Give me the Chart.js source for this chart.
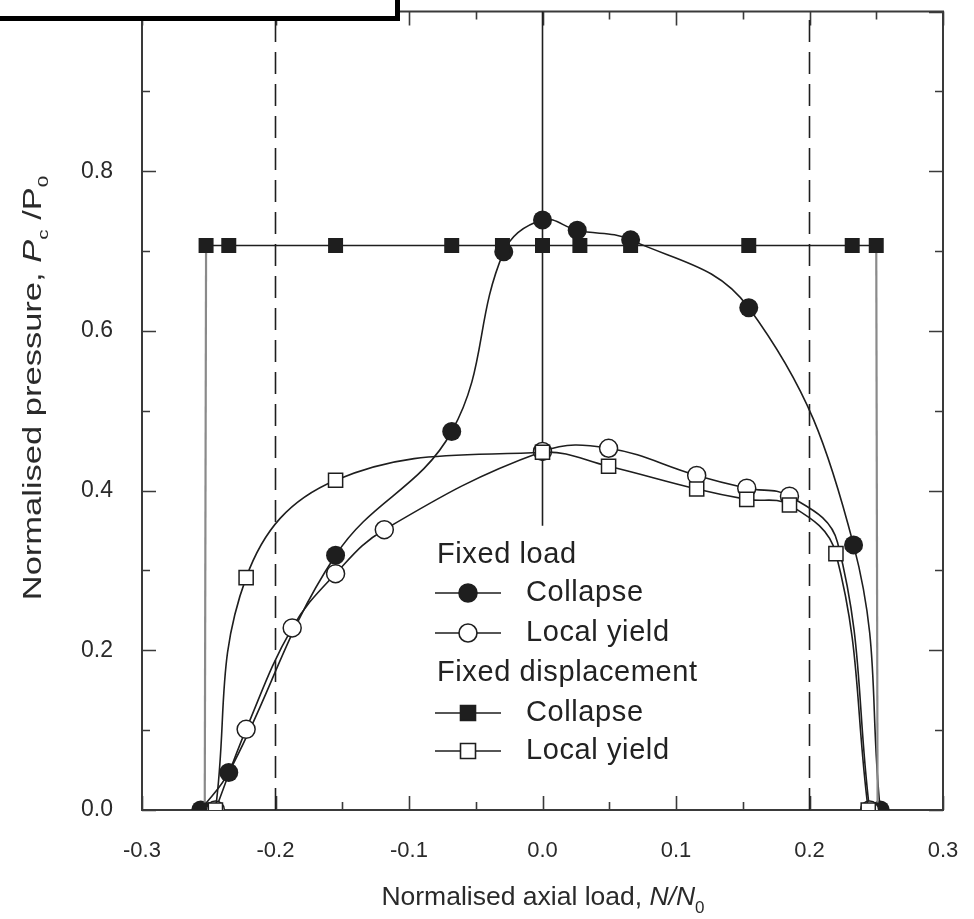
<!DOCTYPE html>
<html><head><meta charset="utf-8">
<script src="https://cdn.jsdelivr.net/npm/chart.js@4.4.0/dist/chart.umd.min.js"></script>
<style>html,body{margin:0;padding:0;background:#fff;overflow:hidden}</style>
</head><body>
<canvas id="c" width="974" height="919" style="display:block;width:974px;height:919px"></canvas>
<script>
// ---- data ----
const xTickValues = [-0.3, -0.2, -0.1, 0.0, 0.1, 0.2, 0.3];
const yTickValues = [0.0, 0.2, 0.4, 0.6, 0.8, 1.0];

// Fixed load – Collapse (filled circles)
const loadCollapseX = [-0.256, -0.235, -0.155, -0.068, -0.029, 0.0, 0.026, 0.066, 0.1545, 0.233, 0.253];
const loadCollapseY = [0.0, 0.047, 0.319, 0.474, 0.699, 0.739, 0.726, 0.714, 0.629, 0.332, 0.0];
// Fixed load – Local yield (open circles)
const loadYieldX = [-0.245, -0.222, -0.1875, -0.155, -0.1185, 0.0, 0.0495, 0.1155, 0.153, 0.185, 0.245];
const loadYieldY = [0.0, 0.101, 0.228, 0.296, 0.351, 0.449, 0.453, 0.419, 0.403, 0.393, 0.0];
// its drawn curve also passes the shoulder near (0.222, 0.335)
const loadYieldCurveX = [-0.245, -0.222, -0.1875, -0.155, -0.1185, 0.0, 0.0495, 0.1155, 0.153, 0.185, 0.221, 0.245];
const loadYieldCurveY = [0.0, 0.101, 0.228, 0.296, 0.351, 0.449, 0.453, 0.419, 0.403, 0.393, 0.335, 0.0];
// Fixed displacement – Collapse (filled squares)
const dispCollapseX = [-0.253, -0.252, -0.235, -0.155, -0.068, -0.03, 0.0, 0.028, 0.066, 0.1545, 0.232, 0.25, 0.251];
const dispCollapseY = [0.0, 0.707, 0.707, 0.707, 0.707, 0.707, 0.707, 0.707, 0.707, 0.707, 0.707, 0.707, 0.0];
// Fixed displacement – Local yield (open squares)
const dispYieldX = [-0.245, -0.222, -0.155, 0.0, 0.0495, 0.1155, 0.153, 0.185, 0.2198, 0.244];
const dispYieldY = [0.0, 0.291, 0.413, 0.448, 0.4305, 0.402, 0.389, 0.382, 0.321, 0.0];

// reference lines
const zeroLineX = [0.0, 0.0];
const zeroLineY = [1.0, 0.356];
const dashLeftX = [-0.2, -0.2];
const dashRightX = [0.2, 0.2];
const dashY = [0.0, 1.0];

const legendHeaders = ['Fixed load', 'Fixed displacement'];
const legendLabels = ['Collapse', 'Local yield', 'Collapse', 'Local yield'];

const toPts = (xs, ys) => xs.map((x, i) => ({x: x, y: ys[i]}));

const INK = '#1e1e1e';
const FONT = '"Liberation Sans", Arial, sans-serif';

const frameTicks = {
  id: 'frameTicks',
  beforeDatasetsDraw(chart) {
    const {ctx, chartArea: a, scales: {x, y}} = chart;
    ctx.save();
    ctx.strokeStyle = '#3a3a3a';
    ctx.lineWidth = 2;
    ctx.strokeRect(a.left, a.top, a.right - a.left, a.bottom - a.top);
    ctx.lineWidth = 1.6;
    ctx.beginPath();
    for (let k = -6; k <= 6; k++) {
      const v = k * 0.05;
      const L = (k % 2 === 0) ? 14 : 8;
      const px = Math.round(x.getPixelForValue(v)) + 0.5;
      ctx.moveTo(px, a.bottom); ctx.lineTo(px, a.bottom - L);
      ctx.moveTo(px, a.top); ctx.lineTo(px, a.top + L);
    }
    for (let k = 0; k <= 10; k++) {
      const v = k * 0.1;
      const L = (k % 2 === 0) ? 14 : 8;
      const py = Math.round(y.getPixelForValue(v)) + 0.5;
      ctx.moveTo(a.left, py); ctx.lineTo(a.left + L, py);
      ctx.moveTo(a.right, py); ctx.lineTo(a.right - L, py);
    }
    ctx.stroke();
    ctx.restore();
  },
  afterDraw(chart) {
    const {ctx} = chart;
    ctx.save();
    // top-left box
    ctx.fillStyle = '#fff';
    ctx.fillRect(-10, -10, 408, 29);
    ctx.strokeStyle = '#000';
    ctx.lineWidth = 5;
    ctx.strokeRect(-10, -10, 407.5, 28.5);

    function drawRuns(list, cx, cy) {
      let total = 0;
      list.forEach(r => { ctx.font = r.f; r.w = ctx.measureText(r.t).width; total += r.w; });
      let xx = cx - total / 2;
      list.forEach(r => { ctx.font = r.f; ctx.fillText(r.t, xx, cy + (r.dy || 0)); xx += r.w; });
      return total;
    }
    ctx.fillStyle = '#2a2a2a';
    ctx.textBaseline = 'alphabetic';
    ctx.textAlign = 'left';
    // x title
    drawRuns([
      {t: 'Normalised axial load, ', f: '26.5px ' + FONT},
      {t: 'N/N', f: 'italic 26.5px ' + FONT},
      {t: '0', f: '17px ' + FONT, dy: 8}
    ], 543, 905);
    // y title (stretched along its length like the reference)
    ctx.save();
    ctx.translate(41, 388);
    ctx.rotate(-Math.PI / 2);
    ctx.scale(1.38, 1);
    drawRuns([
      {t: 'Normalised pressure, ', f: '25px ' + FONT},
      {t: 'P', f: 'italic 25px ' + FONT},
      {t: 'c', f: '15px ' + FONT, dy: 7},
      {t: ' /P', f: '25px ' + FONT},
      {t: '0', f: '15px ' + FONT, dy: 7}
    ], 0, 0);
    ctx.restore();

    // legend
    ctx.font = '29px ' + FONT;
    try { ctx.letterSpacing = '0.6px'; } catch (e) {}
    ctx.textBaseline = 'middle';
    ctx.fillStyle = '#222';
    const lx0 = 435, lx1 = 501, mx = 468, tx = 526;
    const rows = [555, 593, 633, 673, 713, 751];
    ctx.fillText(legendHeaders[0], 437, rows[0]);
    ctx.fillText(legendHeaders[1], 437, rows[3]);
    const entries = [
      {row: rows[1], shape: 'circle', fill: INK, label: legendLabels[0]},
      {row: rows[2], shape: 'circle', fill: '#fff', label: legendLabels[1]},
      {row: rows[4], shape: 'rect', fill: INK, label: legendLabels[2]},
      {row: rows[5], shape: 'rect', fill: '#fff', label: legendLabels[3]}
    ];
    entries.forEach(e => {
      ctx.strokeStyle = INK; ctx.lineWidth = 1.6;
      ctx.beginPath(); ctx.moveTo(lx0, e.row); ctx.lineTo(lx1, e.row); ctx.stroke();
      ctx.fillStyle = e.fill;
      ctx.beginPath();
      if (e.shape === 'circle') ctx.arc(mx, e.row, 9, 0, Math.PI * 2);
      else ctx.rect(mx - 7.5, e.row - 7.5, 15, 15);
      ctx.fill(); ctx.stroke();
      ctx.fillStyle = '#222';
      ctx.fillText(e.label, tx, e.row);
    });
    ctx.restore();
  }
};

const vertGray = c => (c.p0.parsed.x === c.p1.parsed.x || Math.abs(c.p0.parsed.y - c.p1.parsed.y) > 0.3) ? '#8a8a8a' : INK;
const noPad = s => { s.paddingTop = 0; s.paddingBottom = 0; s.paddingLeft = 0; s.paddingRight = 0; };

new Chart(document.getElementById('c'), {
  type: 'scatter',
  data: {
    datasets: [
      {label: 'Fixed displacement – Local yield', data: toPts(dispYieldX, dispYieldY), showLine: true, tension: 0.4,
       borderColor: INK, borderWidth: 1.6, pointStyle: 'rect', pointRadius: 10, pointBackgroundColor: '#fff', pointBorderColor: INK, pointBorderWidth: 1.5, order: 1},
      {label: 'Fixed load – Local yield', data: toPts(loadYieldX, loadYieldY), showLine: false,
       pointStyle: 'circle', pointRadius: 9, pointBackgroundColor: '#fff', pointBorderColor: INK, pointBorderWidth: 1.5, order: 2},
      {label: 'Fixed load – Local yield curve', data: toPts(loadYieldCurveX, loadYieldCurveY), showLine: true, tension: 0.4,
       borderColor: INK, borderWidth: 1.6, pointRadius: 0, order: 5},
      {label: 'Fixed displacement – Collapse', data: toPts(dispCollapseX, dispCollapseY), showLine: true, tension: 0,
       borderColor: INK, borderWidth: 1.6, segment: {borderColor: vertGray, borderWidth: c => vertGray(c) === INK ? 1.6 : 2.2},
       pointStyle: 'rect', pointRadius: 10.6, pointBackgroundColor: INK, pointBorderColor: INK, pointBorderWidth: 0, order: 3},
      {label: 'Fixed load – Collapse', data: toPts(loadCollapseX, loadCollapseY), showLine: true, tension: 0.4,
       borderColor: INK, borderWidth: 1.6, pointStyle: 'circle', pointRadius: 9.5, pointBackgroundColor: INK, pointBorderColor: INK, pointBorderWidth: 0, order: 4},
      {data: toPts(zeroLineX, zeroLineY), showLine: true, borderColor: INK, borderWidth: 1.6, pointRadius: 0, order: 10},
      {data: toPts(dashLeftX, dashY), showLine: true, borderColor: INK, borderWidth: 1.6, borderDash: [22, 10], pointRadius: 0, order: 11},
      {data: toPts(dashRightX, dashY), showLine: true, borderColor: INK, borderWidth: 1.6, borderDash: [22, 10], pointRadius: 0, order: 12}
    ]
  },
  options: {
    responsive: false,
    devicePixelRatio: 1,
    animation: false,
    events: [],
    layout: {padding: {top: 7, right: 31, left: 0, bottom: 0}},
    plugins: {legend: {display: false}, tooltip: {enabled: false}, title: {display: false}},
    scales: {
      x: {
        type: 'linear', min: -0.3, max: 0.3,
        afterBuildTicks: s => { s.ticks = xTickValues.map(v => ({value: v})); },
        afterFit: s => { s.height = 109; noPad(s); },
        grid: {display: false, drawTicks: false},
        border: {display: false},
        ticks: {color: '#2a2a2a', font: {family: FONT, size: 22}, padding: 28, maxRotation: 0,
                callback: v => (Math.round(v * 10) / 10 === 0 ? 0 : v).toFixed(1)}
      },
      y: {
        type: 'linear', min: 0, max: 1.0,
        afterBuildTicks: s => { s.ticks = yTickValues.map(v => ({value: v})); },
        afterFit: s => { s.width = 142; noPad(s); },
        grid: {display: false, drawTicks: false},
        border: {display: false},
        ticks: {color: '#2a2a2a', font: {family: FONT, size: 23}, padding: 29,
                callback: v => v.toFixed(1)}
      }
    }
  },
  plugins: [frameTicks]
});
</script>
</body></html>
